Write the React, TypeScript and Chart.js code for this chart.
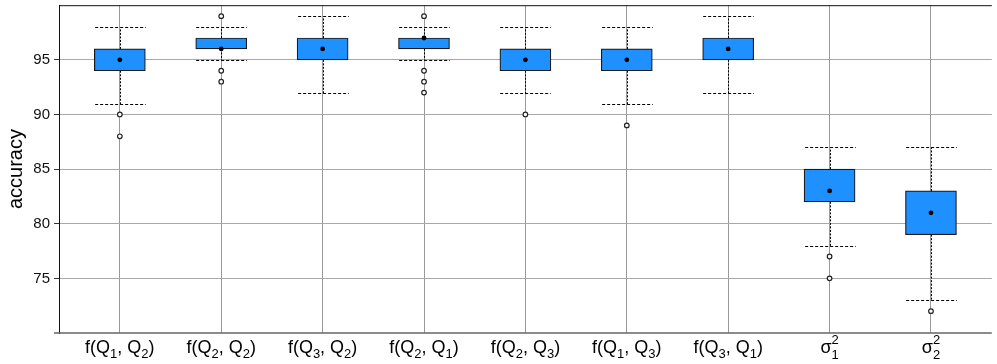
import React, { useEffect, useRef } from 'react';
import { Chart, registerables } from 'chart.js';

Chart.register(...registerables);

// ---- Data ----
const categories = ['f(Q_1, Q_2)', 'f(Q_2, Q_2)', 'f(Q_3, Q_2)', 'f(Q_2, Q_1)', 'f(Q_2, Q_3)', 'f(Q_1, Q_3)', 'f(Q_3, Q_1)', 'σ^2_1', 'σ^2_2'];
const q1 = [94, 96, 95, 96, 94, 94, 95, 82, 79];
const q3 = [96, 97, 97, 97, 96, 96, 97, 85, 83];
const medians = [95, 96, 96, 97, 95, 95, 96, 83, 81];
const whiskerLow = [91, 95, 92, 95, 92, 91, 92, 78, 73];
const whiskerHigh = [98, 98, 99, 98, 98, 98, 99, 87, 87];
const outliers: number[][] = [[90, 88], [99, 94, 93], [], [99, 94, 93, 92], [90], [89], [], [77, 75], [72]];
const yTicks = [75, 80, 85, 90, 95];
const yTitle = 'accuracy';

const FONT = '"Liberation Sans", Arial, Helvetica, sans-serif';

type Seg = { kind: 'n' | 'sub' | 'sup' | 'stack'; t: string; sup?: string; sub?: string };

function parseLabel(s: string): Seg[] {
  const segs: Seg[] = [];
  let buf = '';
  for (let i = 0; i < s.length; i++) {
    const c = s[i];
    if (c === '^' || c === '_') {
      if (buf) { segs.push({ kind: 'n', t: buf }); buf = ''; }
      const v = s[i + 1];
      i++;
      if (c === '^' && s[i + 1] === '_') {
        segs.push({ kind: 'stack', t: '', sup: v, sub: s[i + 2] });
        i += 2;
      } else {
        segs.push({ kind: c === '^' ? 'sup' : 'sub', t: v });
      }
    } else buf += c;
  }
  if (buf) segs.push({ kind: 'n', t: buf });
  return segs;
}

const MAIN = `18px ${FONT}`;
const SCRIPT = `13px ${FONT}`;

function drawLabel(ctx: CanvasRenderingContext2D, text: string, cx: number, base: number) {
  const segs = parseLabel(text);
  const widths = segs.map((sg) => {
    if (sg.kind === 'n') { ctx.font = MAIN; return ctx.measureText(sg.t).width; }
    ctx.font = SCRIPT;
    if (sg.kind === 'stack') return Math.max(ctx.measureText(sg.sup!).width, ctx.measureText(sg.sub!).width);
    return ctx.measureText(sg.t).width;
  });
  const total = widths.reduce((a, b) => a + b, 0);
  let x = cx - total / 2;
  ctx.textAlign = 'left';
  ctx.textBaseline = 'alphabetic';
  ctx.fillStyle = '#000';
  segs.forEach((sg, k) => {
    if (sg.kind === 'n') { ctx.font = MAIN; ctx.fillText(sg.t, x, base); }
    else {
      ctx.font = SCRIPT;
      if (sg.kind === 'sub') ctx.fillText(sg.t, x, base + 5);
      else if (sg.kind === 'sup') ctx.fillText(sg.t, x, base - 9);
      else { ctx.fillText(sg.sup!, x, base - 9); ctx.fillText(sg.sub!, x, base + 6); }
    }
    x += widths[k];
  });
}

const boxPlugin = {
  id: 'boxExtras',
  beforeDatasetsDraw(chart: any) {
    const { ctx, scales } = chart;
    const x = scales.x, y = scales.y;
    const half = x.getPixelForValue(1.25) - x.getPixelForValue(1);
    ctx.save();
    ctx.strokeStyle = '#000';
    ctx.lineWidth = 1;
    for (let i = 0; i < categories.length; i++) {
      const cx = Math.round(x.getPixelForValue(i + 1)) + 0.5;
      const yq1 = y.getPixelForValue(q1[i]);
      const yq3 = y.getPixelForValue(q3[i]);
      const ylo = Math.round(y.getPixelForValue(whiskerLow[i])) + 0.5;
      const yhi = Math.round(y.getPixelForValue(whiskerHigh[i])) + 0.5;
      ctx.setLineDash([2, 1.5]);
      ctx.beginPath();
      ctx.moveTo(cx, yq3); ctx.lineTo(cx, yhi);
      ctx.moveTo(cx, yq1); ctx.lineTo(cx, ylo);
      ctx.stroke();
      ctx.setLineDash([3, 2]);
      ctx.beginPath();
      ctx.moveTo(cx - half, yhi); ctx.lineTo(cx + half, yhi);
      ctx.moveTo(cx - half, ylo); ctx.lineTo(cx + half, ylo);
      ctx.stroke();
    }
    ctx.restore();
  },
  afterDraw(chart: any) {
    const { ctx, chartArea, scales } = chart;
    const x = scales.x;
    ctx.save();
    // top border
    ctx.strokeStyle = '#111';
    ctx.lineWidth = 1;
    ctx.beginPath();
    ctx.moveTo(chartArea.left, chartArea.top + 0.5);
    ctx.lineTo(chartArea.right, chartArea.top + 0.5);
    ctx.stroke();
    // bottom axis line
    ctx.strokeStyle = '#666';
    ctx.lineWidth = 1.5;
    ctx.beginPath();
    ctx.moveTo(chartArea.left - 5, chartArea.bottom);
    ctx.lineTo(chartArea.right, chartArea.bottom);
    ctx.stroke();
    // x labels
    categories.forEach((c, i) => {
      drawLabel(ctx, c, x.getPixelForValue(i + 1), chartArea.bottom + 20);
    });
    ctx.restore();
  },
};

export default function App() {
  const ref = useRef<HTMLCanvasElement>(null);
  useEffect(() => {
    if (!ref.current) return;
    Chart.defaults.font.family = FONT;
    const chart = new Chart(ref.current, {
      type: 'bar',
      data: {
        datasets: [
          {
            type: 'scatter',
            data: medians.map((m, i) => ({ x: i + 1, y: m })),
            pointRadius: 2.4,
            pointBackgroundColor: '#000',
            pointBorderColor: '#000',
            pointBorderWidth: 0,
            order: 1,
          } as any,
          {
            type: 'scatter',
            data: outliers.flatMap((arr, i) => arr.map((v) => ({ x: i + 1, y: v }))),
            pointRadius: 2.3,
            pointBackgroundColor: '#fff',
            pointBorderColor: '#222',
            pointBorderWidth: 1.2,
            order: 2,
          } as any,
          {
            type: 'bar',
            data: q1.map((v, i) => ({ x: i + 1, y: [v, q3[i]] })),
            backgroundColor: '#1E90FF',
            borderColor: '#1a1a1a',
            borderWidth: 1.2,
            borderSkipped: false,
            barThickness: 51,
            order: 3,
          } as any,
        ],
      },
      options: {
        responsive: false,
        animation: false,
        devicePixelRatio: 1,
        layout: { padding: { top: 5, left: 0, right: 0, bottom: 0 } },
        plugins: { legend: { display: false }, tooltip: { enabled: false } },
        scales: {
          x: {
            type: 'linear',
            min: 0.4,
            max: 9.6,
            offset: false,
            afterBuildTicks: (s: any) => { s.ticks = categories.map((_, i) => ({ value: i + 1 })); },
            afterFit: (s: any) => { s.height = 31; s.paddingLeft = 0; s.paddingRight = 0; },
            ticks: { display: false },
            grid: { color: '#999', lineWidth: 1, drawTicks: false, offset: false },
            border: { display: false },
          },
          y: {
            type: 'linear',
            min: 70,
            max: 100,
            afterBuildTicks: (s: any) => { s.ticks = yTicks.map((v) => ({ value: v })); },
            afterFit: (s: any) => { s.width = 59; s.paddingTop = 0; s.paddingBottom = 0; },
            ticks: { color: '#111', font: { size: 15 }, padding: 4 },
            grid: { color: '#a8a8a8', lineWidth: 1, tickColor: '#333', tickLength: 5 },
            border: { color: '#111', width: 1 },
            title: { display: true, text: yTitle, color: '#000', font: { size: 20 }, padding: { top: 4, bottom: 0 } },
          },
        },
      },
      plugins: [boxPlugin],
    });
    return () => chart.destroy();
  }, []);
  return (
    <div style={{ position: 'absolute', left: 0, top: 0, width: 997, height: 364, background: '#fff' }}>
      <canvas ref={ref} width={997} height={364} />
    </div>
  );
}
